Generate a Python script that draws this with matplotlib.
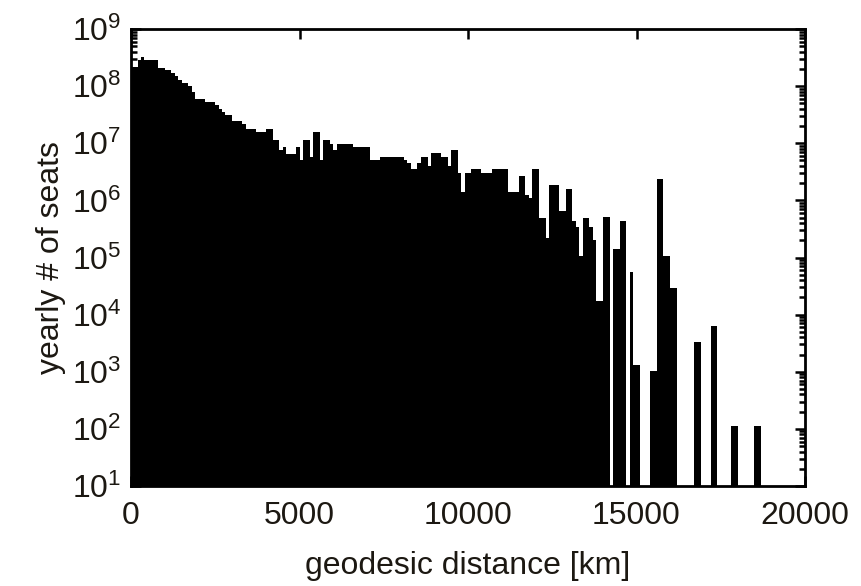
import numpy as np
import matplotlib
matplotlib.use('Agg')
import matplotlib.pyplot as plt
from matplotlib.ticker import LogLocator

plt.rcParams['font.family'] = ['Liberation Sans', 'DejaVu Sans']
plt.rcParams['mathtext.default'] = 'regular'

# histogram of yearly seats vs. flight distance
# step edges in km, one value per step (0 = empty)
bin_edges_km = [0, 200, 300, 400, 800, 1000, 1200, 1300, 1400, 1500, 1700,
                1800, 1900, 2200, 2500, 2600, 2700, 2800, 3000, 3300, 3400,
                3700, 4000, 4200, 4400, 4500, 4600, 4900, 5000, 5100, 5300,
                5400, 5600, 5700, 5900, 6000, 6100, 6600, 7100, 7400, 8100,
                8200, 8300, 8500, 8600, 8800, 8900, 9200, 9400, 9500, 9700,
                9800, 9900, 10100, 10400, 10700, 11200, 11500, 11700, 11800,
                11900, 12100, 12300, 12400, 12700, 12900, 13100, 13200, 13300,
                13400, 13600, 13700, 13800, 14000, 14200, 14300, 14500, 14700,
                14800, 14900, 15100, 15400, 15600, 15800, 16000, 16200, 16700,
                16900, 17200, 17400, 17800, 18000, 18500, 18700, 20000]
seats = [2.2e8, 2.9e8, 3.3e8, 2.9e8, 2.1e8, 1.9e8, 1.7e8, 1.5e8, 1.3e8, 1.15e8,
         1.0e8, 8.0e7, 6.0e7, 5.2e7, 4.6e7, 4.0e7, 3.5e7, 3.1e7, 2.5e7, 2.2e7,
         1.8e7, 1.6e7, 1.8e7, 1.15e7, 7.6e6, 8.5e6, 6.6e6, 8.5e6, 5.1e6, 1.15e7,
         5.8e6, 1.6e7, 5.1e6, 1.15e7, 9.7e6, 7.6e6, 9.7e6, 8.5e6, 5.1e6, 5.7e6,
         5.1e6, 4.6e6, 3.6e6, 4.6e6, 5.7e6, 4.0e6, 6.7e6, 5.7e6, 4.0e6, 7.6e6,
         3.0e6, 1.4e6, 3.0e6, 3.6e6, 3.0e6, 3.6e6, 1.4e6, 2.7e6, 1.25e6,
         1.1e6, 3.6e6, 5.0e5, 2.2e5, 1.85e6, 6.6e5, 1.6e6, 4.4e5, 3.4e5,
         1.07e5, 5.0e5, 3.4e5, 2.0e5, 1.7e4, 5.1e5, 0, 1.4e5, 4.4e5, 0,
         5.5e4, 1.3e3, 0, 1.05e3, 2.35e6, 1.07e5, 2.96e4, 0, 3.3e3,
         0, 6.3e3, 0, 112, 0, 112, 0]

x_ticks = [0, 5000, 10000, 15000, 20000]

edges = np.array(bin_edges_km, dtype=float)
vals = np.array(seats, dtype=float)
left = edges[:-1]
width = np.diff(edges)
keep = vals > 0

fig = plt.figure(figsize=(8.61, 5.86), dpi=100)
ax = fig.add_axes([131/861, 1 - 486/586, (805-131)/861, (486-29)/586])

ax.bar(left[keep], vals[keep], width=width[keep], align='edge',
       color='black', linewidth=0)

ax.set_yscale('log')
ax.set_xlim(0, 20000)
ax.set_ylim(10, 1e9)
ax.set_xticks(x_ticks)
ax.set_xticklabels([str(t) for t in x_ticks])
ax.yaxis.set_major_locator(LogLocator(base=10, numticks=20))
ax.yaxis.set_minor_locator(LogLocator(base=10, subs=np.arange(2, 10), numticks=20))

txt = '#1c1812'
for s in ax.spines.values():
    s.set_linewidth(2)
ax.tick_params(which='both', direction='in', top=True, right=True, width=1.8,
               labelsize=23, colors='black', labelcolor=txt)
ax.tick_params(which='major', length=7)
ax.tick_params(which='minor', length=4)
ax.tick_params(axis='x', pad=11)
ax.tick_params(axis='y', pad=7)

ax.set_xlabel('geodesic distance [km]', fontsize=23, color=txt, labelpad=14)
ax.set_ylabel('yearly # of seats', fontsize=23, color=txt, labelpad=4)

plt.savefig('out.png', dpi=100)
